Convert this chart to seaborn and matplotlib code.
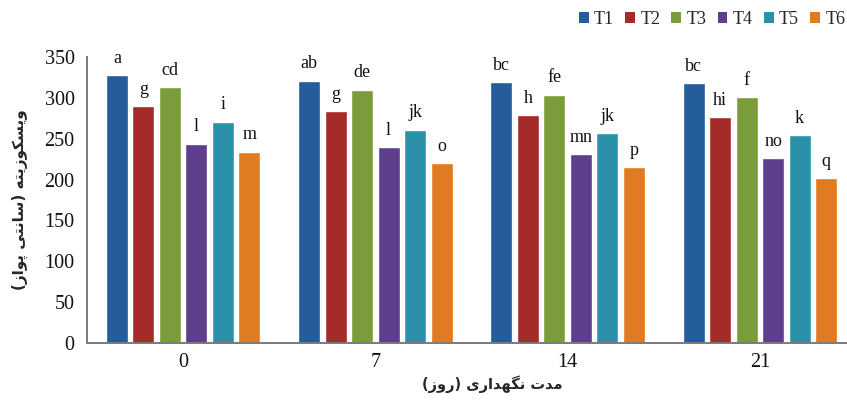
import numpy as np
import pandas as pd
import matplotlib.pyplot as plt
import seaborn as sns
from matplotlib.patches import Patch

# ================= DATA =================
days = ["0", "7", "14", "21"]
treatments = ["T1", "T2", "T3", "T4", "T5", "T6"]

t1 = [328, 321, 319, 318]
t2 = [290, 284, 279, 276]
t3 = [313, 310, 304, 301]
t4 = [244, 240, 231, 226]
t5 = [271, 261, 257, 254]
t6 = [234, 220, 215, 202]

# significance letters, one list per treatment (days 0, 7, 14, 21)
let_t1 = ["a", "ab", "bc", "bc"]
let_t2 = ["g", "g", "h", "hi"]
let_t3 = ["cd", "de", "fe", "f"]
let_t4 = ["l", "l", "mn", "no"]
let_t5 = ["i", "jk", "jk", "k"]
let_t6 = ["m", "o", "p", "q"]

colors = ["#245C9C", "#A52A2A", "#7B9C3A", "#5E3F8E", "#2B91A8", "#E07B22"]

ylabel_fa = "ویسکوزیته (سانتی پواز)"
xlabel_fa = "مدت نگهداری (روز)"

# ================= ARABIC SHAPING =================
# presentation forms: isolated, final, initial, medial
FORMS = {
    "و": ("\uFEED", "\uFEEE", None, None),
    "ز": ("\uFEAF", "\uFEB0", None, None),
    "ا": ("\uFE8D", "\uFE8E", None, None),
    "د": ("\uFEA9", "\uFEAA", None, None),
    "ر": ("\uFEAD", "\uFEAE", None, None),
    "س": ("\uFEB1", "\uFEB2", "\uFEB3", "\uFEB4"),
    "ت": ("\uFE95", "\uFE96", "\uFE97", "\uFE98"),
    "ه": ("\uFEE9", "\uFEEA", "\uFEEB", "\uFEEC"),
    "ن": ("\uFEE5", "\uFEE6", "\uFEE7", "\uFEE8"),
    "م": ("\uFEE1", "\uFEE2", "\uFEE3", "\uFEE4"),
    "پ": ("\uFB56", "\uFB57", "\uFB58", "\uFB59"),
    "ک": ("\uFB8E", "\uFB8F", "\uFB90", "\uFB91"),
    "گ": ("\uFB92", "\uFB93", "\uFB94", "\uFB95"),
    "ی": ("\uFBFC", "\uFBFD", "\uFBFE", "\uFBFF"),
}


def shape_fa(text):
    out = []
    for i, ch in enumerate(text):
        if ch not in FORMS:
            out.append(ch)
            continue
        prev = text[i - 1] if i > 0 else ""
        nxt = text[i + 1] if i + 1 < len(text) else ""
        f = FORMS[ch]
        join_prev = prev in FORMS and FORMS[prev][2] is not None
        join_next = nxt in FORMS and f[2] is not None
        if join_prev and join_next:
            out.append(f[3])
        elif join_prev:
            out.append(f[1])
        elif join_next:
            out.append(f[2])
        else:
            out.append(f[0])
    s = "".join(out)[::-1]
    return s.translate(str.maketrans("()", ")("))


# ================= FRAME =================
values = [t1, t2, t3, t4, t5, t6]
df = pd.DataFrame({
    "day": days * len(treatments),
    "treatment": np.repeat(treatments, len(days)),
    "value": np.concatenate(values),
})

sns.set_style("white")
plt.rcParams["font.family"] = ["Liberation Serif", "DejaVu Sans"]

fig = plt.figure(figsize=(8.47, 4.07), dpi=100)
ax = fig.add_axes([87 / 847, 64 / 407, 769 / 847, 286 / 407])

sns.barplot(data=df, x="day", y="value", hue="treatment", order=days,
            hue_order=treatments, palette=colors, width=0.826, gap=0.17,
            errorbar=None, saturation=1, ax=ax, legend=False)

letters = [let_t1, let_t2, let_t3, let_t4, let_t5, let_t6]
for cont, labs in zip(ax.containers, letters):
    ax.bar_label(cont, labels=labs, padding=6, fontsize=13, color="#111111")

ax.set_xlim(-0.5, 3.5)
ax.set_ylim(0, 350)
ax.set_yticks(range(0, 351, 50))
sns.despine(ax=ax)
for side in ["left", "bottom"]:
    ax.spines[side].set_color("#7a7a7a")
    ax.spines[side].set_linewidth(1.4)
ax.tick_params(axis="y", direction="out", length=5, width=1, color="#7a7a7a",
               labelsize=14.5, labelcolor="#111111", pad=4)
ax.tick_params(axis="x", length=0, labelsize=14.5, labelcolor="#111111", pad=7)

ax.set_xlabel(shape_fa(xlabel_fa), family=["DejaVu Sans"], fontweight="bold",
              fontsize=10.5)
ax.xaxis.set_label_coords(0.527, -0.112)
ax.set_ylabel(shape_fa(ylabel_fa), family=["DejaVu Sans"], fontweight="bold",
              fontsize=11, labelpad=12)

handles = [Patch(facecolor=c, edgecolor="none") for c in colors]
fig.legend(handles, treatments, ncol=6, loc="upper left",
           bbox_to_anchor=(568 / 847, 1.0), frameon=False, fontsize=13,
           handlelength=0.55, handleheight=0.55, handletextpad=0.3,
           columnspacing=0.6, borderaxespad=0.2)

plt.savefig("out.png", dpi=100)
